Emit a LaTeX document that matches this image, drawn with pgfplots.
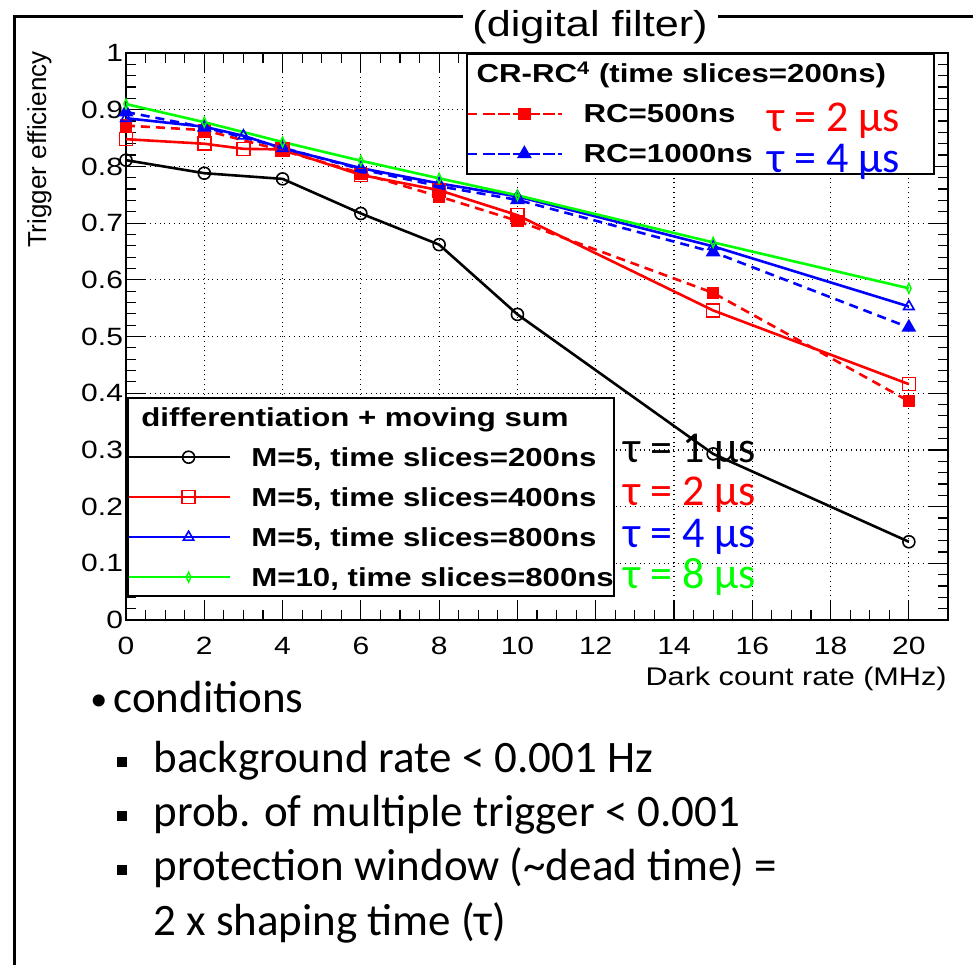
\documentclass[border=0pt]{standalone}
\usepackage{pgfplots}
\pgfplotsset{compat=1.18}
\usepackage{fontspec}
\setmainfont{Liberation Sans}
\newfontfamily\chartfont[FakeStretch=1.2]{Liberation Sans}
\newfontfamily\slidefont{Carlito}
\begin{document}
\begin{tikzpicture}
\useasboundingbox (0pt,0pt) rectangle (486.5pt,-482.5pt);
\pgfplotsset{
 common/.style={width=411pt, height=283.5pt, scale only axis,
   xmin=0, xmax=21, ymin=0, ymax=1, at={(63pt,-310pt)}, anchor=south west},
 leg/.style={legend cell align=left,
   legend style={draw=black, line width=0.8pt, fill=white, inner xsep=0pt,
     row sep=7pt, column sep=10pt,
     font=\chartfont\bfseries\fontsize{13}{15}\selectfont,
     nodes={inner sep=0pt, text height=11pt, text depth=2pt}}}
}
% ---------- axis 1: frame, grid, CR-RC series ----------
\begin{axis}[common, leg,
  xtick={0,2,4,6,8,10,12,14,16,18,20},
  ytick={0,0.1,0.2,0.3,0.4,0.5,0.6,0.7,0.8,0.9,1},
  minor x tick num=3, minor y tick num=4,
  tick align=inside, major tick length=10pt, minor tick length=5pt,
  tick style={black, line width=0.6pt},
  axis line style={line width=1pt},
  grid=major, major grid style={black, dotted, line width=0.6pt},
  tick label style={font=\chartfont\fontsize{12.5}{14}\selectfont},
  /pgf/number format/assume math mode=true,
  yticklabel style={xshift=2pt},
  xticklabel style={yshift=-5pt},
  legend style={at={(0.984,1)}, anchor=north east, inner ysep=3.5pt},
  legend image code/.code={\path (-9pt,0pt) -- (38pt,0pt);
     \draw[mark repeat=2, mark phase=2, #1] plot coordinates {(0pt,0pt) (19pt,0pt) (38pt,0pt)};},
]
\addlegendimage{empty legend}
\addlegendentry{\hspace*{-53.5pt}CR-RC\textsuperscript{4} (time slices=200ns)\kern 24pt\null}
\addplot[red, line width=1.3pt, dash pattern=on 4.5pt off 3pt,
  mark=square*, mark size=2.5pt, mark options={solid}]
  coordinates {(0,0.872) (2,0.864) (4,0.828) (6,0.788) (8,0.747) (10,0.704) (15,0.577) (20,0.386)};
\addlegendentry{RC=500ns}
\addplot[blue, line width=1.3pt, dash pattern=on 4.5pt off 3pt,
  mark=triangle*, mark size=3pt, mark options={solid}]
  coordinates {(0,0.896) (2,0.869) (4,0.833) (6,0.795) (8,0.765) (10,0.741) (15,0.649) (20,0.516)};
\addlegendentry{RC=1000ns}
\end{axis}
% ---------- axis 2: differentiation + moving sum ----------
\begin{axis}[common, leg, hide axis,
  legend style={at={(0.0012,0.0406)}, anchor=south west, inner ysep=3pt},
  legend image code/.code={\path (-9pt,0pt) -- (41.5pt,0pt);
     \draw[mark repeat=2, mark phase=2, #1] plot coordinates {(0pt,0pt) (20.75pt,0pt) (41.5pt,0pt)};},
]
\addlegendimage{empty legend}
\addlegendentry{\hspace*{-55pt}differentiation + moving sum}
\addplot[black, line width=1.3pt, mark=o, mark size=3pt, mark options={line width=0.8pt}]
  coordinates {(0,0.811) (2,0.788) (4,0.778) (6,0.717) (8,0.662) (10,0.539) (15,0.293) (20,0.138)};
\addlegendentry{M=5, time slices=200ns}
\addplot[red, line width=1.3pt, mark=square, mark size=3.25pt, mark options={line width=0.8pt}]
  coordinates {(0,0.848) (2,0.840) (3,0.831) (4,0.830) (6,0.785) (8,0.758) (10,0.714) (15,0.546) (20,0.416)};
\addlegendentry{M=5, time slices=400ns}
\addplot[blue, line width=1.3pt, mark=triangle, mark size=3pt, mark options={line width=0.8pt}]
  coordinates {(0,0.885) (2,0.870) (3,0.854) (4,0.832) (6,0.797) (8,0.770) (10,0.747) (15,0.659) (20,0.553)};
\addlegendentry{M=5, time slices=800ns}
\addplot[green, line width=1.3pt, mark=diamond, mark size=2.5pt, mark options={line width=0.7pt, xscale=0.6}]
  coordinates {(0,0.910) (2,0.878) (4,0.843) (6,0.810) (8,0.779) (10,0.749) (15,0.666) (20,0.585)};
\addlegendentry{M=10, time slices=800ns}
\end{axis}
% ---------- slide frame, titles and notes (pixel units) ----------
\begin{scope}[x=0.5pt, y=-0.5pt]
\draw[line width=1.5pt] (14,965) -- (14,16) -- (463,16);
\draw[line width=1.5pt] (718,16) -- (973,16);
\node[anchor=base, inner sep=0pt, font=\chartfont\fontsize{18}{20}\selectfont] at (590,36) {(digital filter)};
\node[rotate=90, anchor=base east, inner sep=0pt, font=\fontsize{13}{15}\selectfont] at (46,51) {Trigger efficiency};
\node[anchor=base east, inner sep=0pt, font=\chartfont\fontsize{12.75}{14}\selectfont] at (947,685) {Dark count rate (MHz)};
\begin{scope}[every node/.style={anchor=base west, inner sep=0pt, font=\slidefont\fontsize{22}{26}\selectfont}]
\node[red] at (767,131) {τ = 2 µs};
\node[blue] at (767,172) {τ = 4 µs};
\node[black] at (623,462) {τ = 1 µs};
\node[red] at (623,505) {τ = 2 µs};
\node[blue] at (623,547) {τ = 4 µs};
\node[green] at (623,588) {τ = 8 µs};
\end{scope}
\begin{scope}[every node/.style={anchor=base west, inner sep=0pt, font=\slidefont\fontsize{22.5}{27}\selectfont}]
\node at (113,712) {conditions};
\node at (153,772) {background rate < 0.001 Hz};
\node at (153,826) {prob. of multiple trigger < 0.001};
\node at (153,880) {protection window (\textasciitilde dead time) =};
\node at (153,935) {2 x shaping time (τ)};
\node[font=\slidefont\fontsize{17}{20}\selectfont] at (90,710) {•};
\node at (117,772) {\rule[2.75pt]{5pt}{5pt}};
\node at (117,826) {\rule[2.75pt]{5pt}{5pt}};
\node at (117,880) {\rule[2.75pt]{5pt}{5pt}};
\end{scope}
\end{scope}
\end{tikzpicture}
\end{document}
